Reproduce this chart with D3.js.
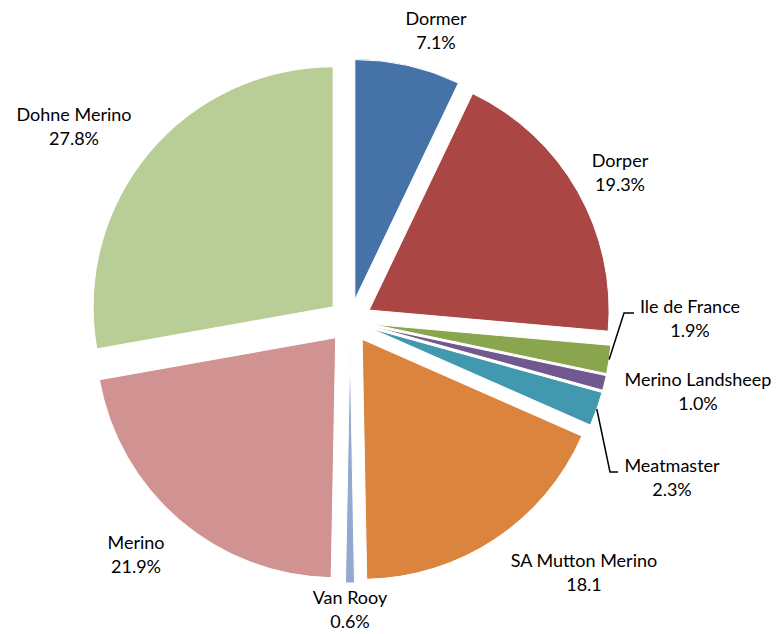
<!DOCTYPE html>
<html>
<head>
<meta charset="utf-8">
<script src="https://cdn.jsdelivr.net/npm/d3@7"></script>
<style>
  body { margin: 0; background: #fff; }
  text { font-family: Lato, "Open Sans", sans-serif; font-size: 18px; fill: #000; }
</style>
</head>
<body>
<div id="chart"></div>
<script>
// breeds, clockwise from 12 o'clock
const breeds = ["Dormer", "Dorper", "Ile de France", "Merino Landsheep", "Meatmaster",
                "SA Mutton Merino", "Van Rooy", "Merino", "Dohne Merino"];
const shares = [7.1, 19.3, 1.9, 1.0, 2.3, 18.1, 0.6, 21.9, 27.8];
const valueLabels = ["7.1%", "19.3%", "1.9%", "1.0%", "2.3%", "18.1", "0.6%", "21.9%", "27.8%"];
const colors = ["#4572A7", "#AA4643", "#89A54E", "#71588F", "#4198AF",
                "#DB843D", "#93A9CF", "#D19392", "#B9CD96"];

// label centres (layout only)
const labelX = [436, 620, 690, 698, 672, 584, 350, 136, 74];
const labelY = [19, 161, 307, 380, 466, 561, 598, 543, 115];
// which labels get a leader line, and elbow point
const leaders = {"Ile de France": [624, 313, 634], "Meatmaster": [610, 472, 618]};

let width = 776, height = 634;
let cx = 350, cy = 321, radius = 240, explode = 22;

let svg = d3.select("#chart").append("svg")
    .attr("width", width)
    .attr("height", height);

let data = breeds.map((b, i) => ({name: b, value: shares[i], label: valueLabels[i], color: colors[i]}));

let pie = d3.pie().sort(null).value(d => d.value);
let arcs = pie(data);
let arc = d3.arc().innerRadius(0).outerRadius(radius);

let g = svg.append("g").attr("transform", "translate(" + cx + "," + cy + ")");

g.selectAll("path.slice")
    .data(arcs)
    .enter().append("path")
    .attr("class", "slice")
    .attr("d", arc)
    .attr("fill", d => d.data.color)
    .attr("stroke", "#fff")
    .attr("stroke-width", 1)
    .attr("transform", d => {
        let mid = (d.startAngle + d.endAngle) / 2;
        let p = d3.pointRadial(mid, explode);
        return "translate(" + p[0] + "," + p[1] + ")";
    });

// leader lines
arcs.forEach(d => {
    let l = leaders[d.data.name];
    if (!l) return;
    let mid = (d.startAngle + d.endAngle) / 2;
    let off = d3.pointRadial(mid, explode);
    let edge = d3.pointRadial(mid, radius);
    let x0 = cx + off[0] + edge[0], y0 = cy + off[1] + edge[1];
    svg.append("path")
        .attr("d", d3.line()([[x0, y0], [l[0], l[1]], [l[2], l[1]]]))
        .attr("fill", "none")
        .attr("stroke", "#000")
        .attr("stroke-width", 1.5);
});

let labels = svg.selectAll("g.lbl")
    .data(data)
    .enter().append("g")
    .attr("class", "lbl")
    .attr("transform", (d, i) => "translate(" + labelX[i] + "," + labelY[i] + ")");

labels.append("text")
    .attr("text-anchor", "middle")
    .attr("dy", "0.35em")
    .text(d => d.name);

labels.append("text")
    .attr("text-anchor", "middle")
    .attr("y", 24)
    .attr("dy", "0.35em")
    .text(d => d.label);
</script>
</body>
</html>
